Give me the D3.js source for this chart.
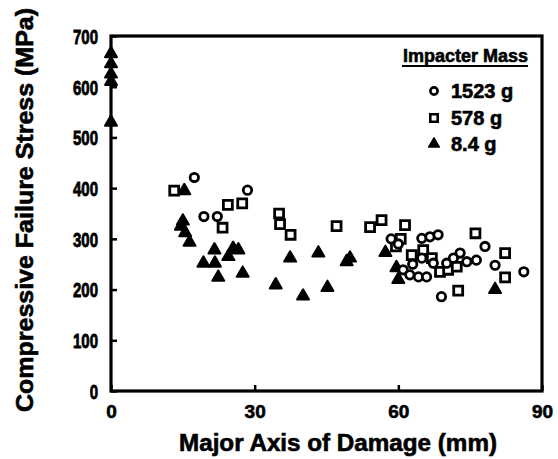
<!DOCTYPE html>
<html><head><meta charset="utf-8">
<script src="https://cdn.jsdelivr.net/npm/d3@7"></script>
<style>body{margin:0;background:#fff}svg{display:block}text{font-family:"Liberation Sans",Arial,sans-serif;font-weight:bold;fill:#000;stroke:#000;stroke-width:0.6px}</style>
</head><body><svg id="c" width="558" height="459"></svg>
<script>
const xTicks = [0, 30, 60, 90];
const yTicks = [0, 100, 200, 300, 400, 500, 600, 700];
const seriesNames = ["1523 g", "578 g", "8.4 g"];
const legendTitle = "Impacter Mass";
const xTitle = "Major Axis of Damage (mm)";
const yTitle = "Compressive Failure Stress (MPa)";

// 1523 g (circles)
const circX = [17.4,28.5,19.4,22.2,58.5,60,64.9,66.6,68.3,78.1,61,62.4,64.2,65.9,64.9,67.3,70.1,72.9,74.3,76.3,69,80.2,86.2,71.5,63];
const circY = [421,396,344,344,300,290,301,304,308,285,239,229,225,225,262,252,252,272,255,258,186,248,235,262,250];
// 578 g (squares)
const sqX = [13.2,24.4,27.4,23.3,35.1,35.3,37.5,47.1,54.1,56.5,61.4,59.5,62.8,65.2,68.7,70.4,72.2,76.1,72.5,82.3,82.3,60.5,67];
const sqY = [395,367,370,322,350,329,308,325,323,337,327,285,268,278,235,239,245,311,198,272,224,300,262];
// 8.4 g (triangles)
const triX = [0,0,0,0,0,15.3,15,14.6,15.5,16.4,21.6,19.3,21.7,24.5,25.5,26.6,22.4,27.5,37.4,43.3,49.2,49.9,34.4,40.1,45.2,57.3,59.6,60,80.2];
const triY = [665,645,625,610,530,395,335,325,312,293,278,252,252,265,281,278,224,232,262,272,255,262,209,187,204,273,243,220,200];

const svg = d3.select("#c");
const L = 111, R = 542, T = 36, B = 391;
const x = d3.scaleLinear().domain([0, 90]).range([L, R]);
const y = d3.scaleLinear().domain([0, 700]).range([B, T]);

// axes
const gy = svg.append("g").attr("transform", `translate(${L},0)`)
  .call(d3.axisLeft(y).tickValues(yTicks).tickSize(-6).tickPadding(13).tickFormat(d3.format("d")));
const gx = svg.append("g").attr("transform", `translate(0,${B})`)
  .call(d3.axisBottom(x).tickValues(xTicks).tickSize(-6).tickPadding(14).tickFormat(d3.format("d")));
[gx, gy].forEach(g => {
  g.select(".domain").remove();
  g.selectAll(".tick line").attr("stroke", "#000").attr("stroke-width", 2.5);
  g.selectAll(".tick text").attr("fill", "#000")
    .style("font-family", '"Liberation Sans",Arial,sans-serif').style("font-weight", "bold");
});
gy.selectAll(".tick text").style("font-size", "15px").attr("dy", "0.36em").attr("transform", "scale(1,1.35)");
gx.selectAll(".tick text").style("font-size", "19px");

svg.append("rect").attr("x", L).attr("y", T).attr("width", R - L).attr("height", B - T)
  .attr("fill", "none").attr("stroke", "#000").attr("stroke-width", 3.2);

// titles
svg.append("text").attr("x", 338).attr("y", 451).attr("text-anchor", "middle")
  .style("font-size", "23px").attr("textLength", 318).attr("lengthAdjust", "spacingAndGlyphs").text(xTitle);
svg.append("text").attr("transform", "translate(33,210) rotate(-90)").attr("text-anchor", "middle")
  .style("font-size", "23px").attr("textLength", 404).attr("lengthAdjust", "spacingAndGlyphs").text(yTitle);

// marks
const triSym = d3.symbol().type(d3.symbolTriangle).size(62);
const sqSym = d3.symbol().type(d3.symbolSquare).size(80);
function circles(g, xs, ys) {
  g.selectAll(null).data(xs.map((v, i) => [v, ys[i]])).join("circle")
    .attr("cx", d => x(d[0])).attr("cy", d => y(d[1])).attr("r", 4.2)
    .attr("fill", "#fff").attr("stroke", "#000").attr("stroke-width", 2.8);
}
function squares(g, xs, ys) {
  g.selectAll(null).data(xs.map((v, i) => [v, ys[i]])).join("path")
    .attr("d", sqSym).attr("transform", d => `translate(${x(d[0])},${y(d[1])})`)
    .attr("fill", "#fff").attr("stroke", "#000").attr("stroke-width", 2.8);
}
function triangles(g, xs, ys) {
  g.selectAll(null).data(xs.map((v, i) => [v, ys[i]])).join("path")
    .attr("d", triSym).attr("transform", d => `translate(${x(d[0])},${y(d[1])})`)
    .attr("fill", "#000").attr("stroke", "#000").attr("stroke-width", 2).attr("stroke-linejoin", "round");
}
const gm = svg.append("g");
triangles(gm.append("g"), triX, triY);
squares(gm.append("g"), sqX, sqY);
circles(gm.append("g"), circX, circY);

// legend
const lg = svg.append("g");
lg.append("text").attr("x", 528).attr("y", 62).attr("text-anchor", "end").style("font-size", "18px").text(legendTitle);
lg.append("line").attr("x1", 402).attr("x2", 528).attr("y1", 66).attr("y2", 66).attr("stroke", "#000").attr("stroke-width", 1.8);
const rows = [91, 118, 144];
lg.append("circle").attr("cx", 434).attr("cy", rows[0]).attr("r", 3.6).attr("fill", "#fff").attr("stroke", "#000").attr("stroke-width", 2.6);
lg.append("path").attr("d", d3.symbol().type(d3.symbolSquare).size(55)).attr("transform", `translate(434,${rows[1]})`)
  .attr("fill", "#fff").attr("stroke", "#000").attr("stroke-width", 2.6);
lg.append("path").attr("d", d3.symbol().type(d3.symbolTriangle).size(50)).attr("transform", `translate(434,${rows[2]})`)
  .attr("fill", "#000").attr("stroke", "#000").attr("stroke-width", 1.5).attr("stroke-linejoin", "round");
seriesNames.forEach((s, i) => {
  lg.append("text").attr("x", 451).attr("y", rows[i] + 7).style("font-size", "20px").text(s);
});
</script></body></html>
